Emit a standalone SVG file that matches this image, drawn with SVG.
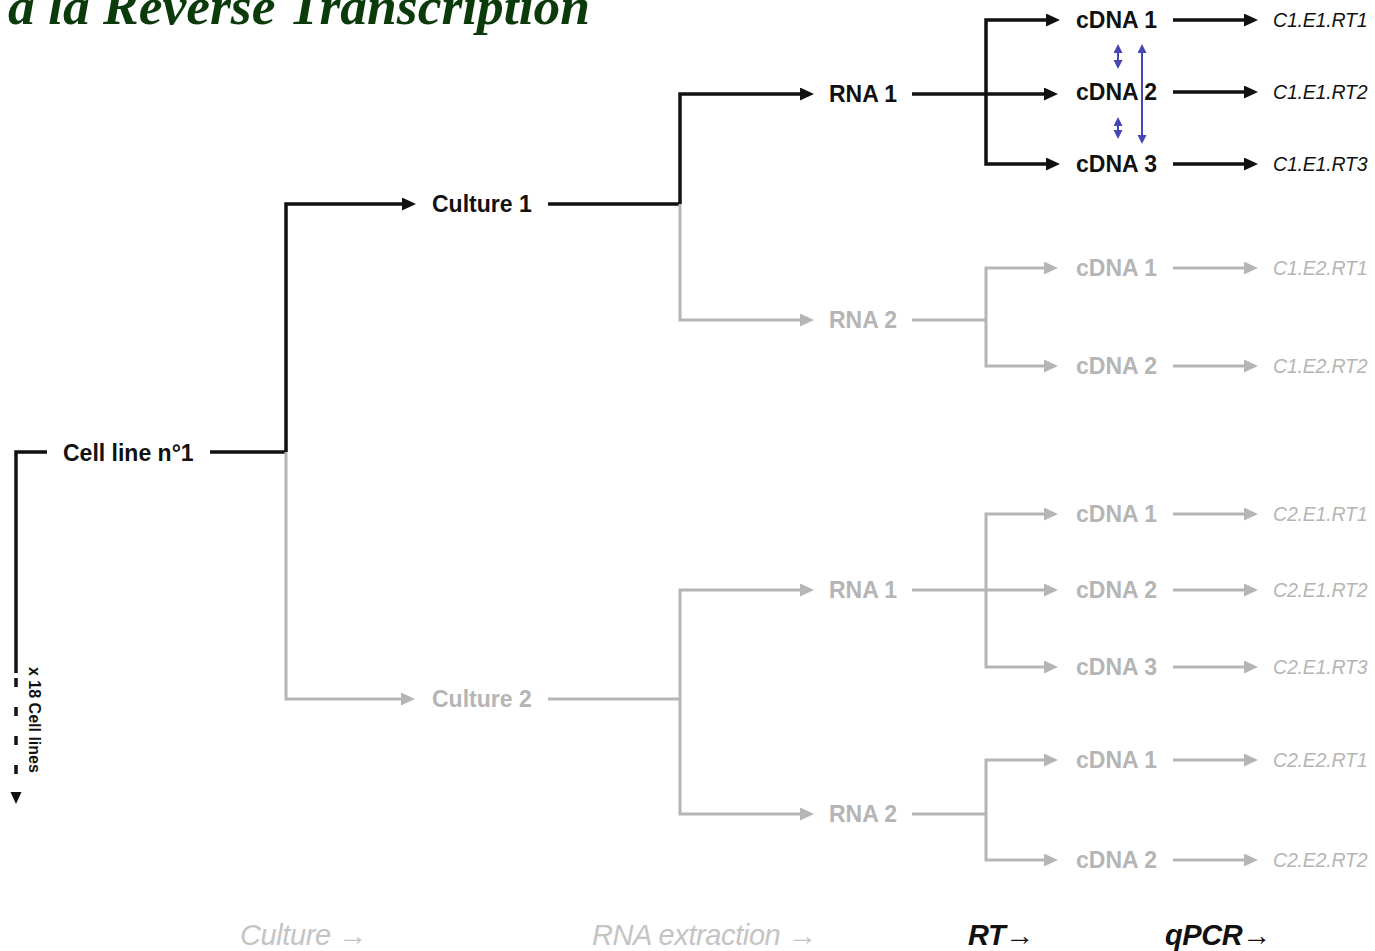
<svg xmlns="http://www.w3.org/2000/svg" width="1375" height="951" viewBox="0 0 1375 951">
<style>
.title{font-family:"Liberation Serif",serif;font-weight:bold;font-style:italic;font-size:53.5px;fill:#0b3b0b}
.n{font-family:"Liberation Sans",Arial,sans-serif;font-weight:bold;font-size:23px}
.o{font-family:"Liberation Sans",Arial,sans-serif;font-style:italic;font-size:19.5px;letter-spacing:-0.2px}
.k{fill:#111}
.g{fill:#b5b5b5}
.ax{font-family:"Liberation Sans",Arial,sans-serif;font-style:italic;font-size:29px;letter-spacing:-0.4px}
.cb{fill:none;stroke:#111;stroke-width:3.5}
.cg{fill:none;stroke:#b5b5b5;stroke-width:3}
.bl{fill:none;stroke:#4448b0;stroke-width:2}
</style>
<defs>
<marker id="ab" markerUnits="userSpaceOnUse" markerWidth="15" markerHeight="13" refX="10" refY="6.5" orient="auto"><path d="M0,0 L14,6.5 L0,13 z" fill="#111"/></marker>
<marker id="ag" markerUnits="userSpaceOnUse" markerWidth="15" markerHeight="13" refX="10" refY="6.5" orient="auto"><path d="M0,0 L14,6.5 L0,13 z" fill="#b5b5b5"/></marker>
<marker id="au" markerUnits="userSpaceOnUse" markerWidth="10" markerHeight="10" refX="6" refY="4.5" orient="auto-start-reverse"><path d="M0,0 L9,4.5 L0,9 z" fill="#4448b0"/></marker>
<marker id="as" markerUnits="userSpaceOnUse" markerWidth="12" markerHeight="12" refX="8" refY="5.5" orient="auto"><path d="M0,0 L12,5.5 L0,11 z" fill="#111"/></marker>
</defs>

<text class="title" x="8" y="24">à la Reverse Transcription</text>

<g id="connectors">
  <path class="cb" d="M47,452 H16 V673"/>
  <path class="cb" d="M16,678 V785" stroke-dasharray="9 20"/>
  <path class="cb" d="M16,792 V800" marker-end="url(#as)"/>
  <path class="cb" d="M210,452 H286"/>
  <path class="cb" d="M286,452 V204 H412" marker-end="url(#ab)"/>
  <path class="cb" d="M548,204 H680"/>
  <path class="cb" d="M680,204 V94 H810" marker-end="url(#ab)"/>
  <path class="cb" d="M912,94 H1054" marker-end="url(#ab)"/>
  <path class="cb" d="M986,94 V20 H1056" marker-end="url(#ab)"/>
  <path class="cb" d="M986,94 V164 H1056" marker-end="url(#ab)"/>
  <path class="cb" d="M1173,20 H1254" marker-end="url(#ab)"/>
  <path class="cb" d="M1173,92 H1254" marker-end="url(#ab)"/>
  <path class="cb" d="M1173,164 H1254" marker-end="url(#ab)"/>
  <path class="bl" d="M1118,47 V66" marker-start="url(#au)" marker-end="url(#au)"/>
  <path class="bl" d="M1118,120 V136" marker-start="url(#au)" marker-end="url(#au)"/>
  <path class="bl" d="M1142,47 V141" marker-start="url(#au)" marker-end="url(#au)"/>
  <path class="cg" d="M286,452 V699 H411" marker-end="url(#ag)"/>
  <path class="cg" d="M680,204 V320 H810" marker-end="url(#ag)"/>
  <path class="cg" d="M912,320 H986"/>
  <path class="cg" d="M986,320 V268 H1054" marker-end="url(#ag)"/>
  <path class="cg" d="M986,320 V366 H1054" marker-end="url(#ag)"/>
  <path class="cg" d="M1173,268 H1254" marker-end="url(#ag)"/>
  <path class="cg" d="M1173,366 H1254" marker-end="url(#ag)"/>
  <path class="cg" d="M548,699 H680"/>
  <path class="cg" d="M680,699 V590 H810" marker-end="url(#ag)"/>
  <path class="cg" d="M680,699 V814 H810" marker-end="url(#ag)"/>
  <path class="cg" d="M912,590 H1054" marker-end="url(#ag)"/>
  <path class="cg" d="M986,590 V514 H1054" marker-end="url(#ag)"/>
  <path class="cg" d="M986,590 V667 H1054" marker-end="url(#ag)"/>
  <path class="cg" d="M1173,514 H1254" marker-end="url(#ag)"/>
  <path class="cg" d="M1173,590 H1254" marker-end="url(#ag)"/>
  <path class="cg" d="M1173,667 H1254" marker-end="url(#ag)"/>
  <path class="cg" d="M912,814 H986"/>
  <path class="cg" d="M986,814 V760 H1054" marker-end="url(#ag)"/>
  <path class="cg" d="M986,814 V860 H1054" marker-end="url(#ag)"/>
  <path class="cg" d="M1173,760 H1254" marker-end="url(#ag)"/>
  <path class="cg" d="M1173,860 H1254" marker-end="url(#ag)"/>
</g>

<g id="cellline"><text class="n k" x="63" y="461">Cell line n°1</text></g>
<g id="xlines"><text class="n k" style="font-size:16px" transform="translate(29,667) rotate(90)">x 18 Cell lines</text></g>

<g id="culture1"><text class="n k" x="432" y="212">Culture 1</text></g>
<g id="culture2"><text class="n g" x="432" y="707">Culture 2</text></g>

<g id="c1rna1"><text class="n k" x="829" y="102">RNA 1</text></g>
<g id="c1rna2"><text class="n g" x="829" y="328">RNA 2</text></g>
<g id="c2rna1"><text class="n g" x="829" y="598">RNA 1</text></g>
<g id="c2rna2"><text class="n g" x="829" y="822">RNA 2</text></g>

<g id="c1e1cdna1"><text class="n k" x="1076" y="28">cDNA 1</text></g>
<g id="c1e1cdna2"><text class="n k" x="1076" y="100">cDNA 2</text></g>
<g id="c1e1cdna3"><text class="n k" x="1076" y="172">cDNA 3</text></g>
<g id="c1e2cdna1"><text class="n g" x="1076" y="276">cDNA 1</text></g>
<g id="c1e2cdna2"><text class="n g" x="1076" y="374">cDNA 2</text></g>
<g id="c2e1cdna1"><text class="n g" x="1076" y="522">cDNA 1</text></g>
<g id="c2e1cdna2"><text class="n g" x="1076" y="598">cDNA 2</text></g>
<g id="c2e1cdna3"><text class="n g" x="1076" y="675">cDNA 3</text></g>
<g id="c2e2cdna1"><text class="n g" x="1076" y="768">cDNA 1</text></g>
<g id="c2e2cdna2"><text class="n g" x="1076" y="868">cDNA 2</text></g>

<g id="o1"><text class="o k" x="1273" y="27">C1.E1.RT1</text></g>
<g id="o2"><text class="o k" x="1273" y="99">C1.E1.RT2</text></g>
<g id="o3"><text class="o k" x="1273" y="171">C1.E1.RT3</text></g>
<g id="o4"><text class="o g" x="1273" y="275">C1.E2.RT1</text></g>
<g id="o5"><text class="o g" x="1273" y="373">C1.E2.RT2</text></g>
<g id="o6"><text class="o g" x="1273" y="521">C2.E1.RT1</text></g>
<g id="o7"><text class="o g" x="1273" y="597">C2.E1.RT2</text></g>
<g id="o8"><text class="o g" x="1273" y="674">C2.E1.RT3</text></g>
<g id="o9"><text class="o g" x="1273" y="767">C2.E2.RT1</text></g>
<g id="o10"><text class="o g" x="1273" y="867">C2.E2.RT2</text></g>

<g id="axis">
  <text class="ax" x="240" y="945" fill="#c4c4c4">Culture →</text>
  <text class="ax" x="592" y="945" fill="#c4c4c4">RNA extraction →</text>
  <text class="ax k" x="968" y="945" font-weight="bold">RT→</text>
  <text class="ax k" x="1165" y="945" font-weight="bold">qPCR→</text>
</g>
</svg>
